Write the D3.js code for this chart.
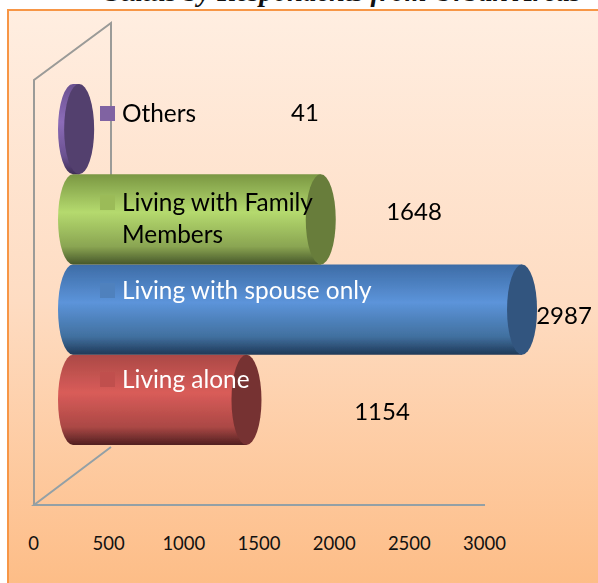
<!DOCTYPE html>
<html><head><meta charset="utf-8">
<script src="https://cdn.jsdelivr.net/npm/d3@7"></script>
<style>html,body{margin:0;padding:0;background:#fff;overflow:hidden}svg{display:block}text{font-family:Lato,sans-serif}</style>
</head><body><svg id="c" width="598" height="583"></svg>
<script>
const categories = ["Living alone", "Living with spouse only", "Living with Family Members", "Others"];
const values = [1154, 2987, 1648, 41];
const tickValues = [0, 500, 1000, 1500, 2000, 2500, 3000];
const titleText = "Status by Respondents from Urban Areas";
const bodyStops = [
  ["#ab4946", "#d95c59", "#ab4845", "#512020"],
  ["#3d6ca6", "#5c94da", "#41709f", "#1e3857"],
  ["#7a9743", "#b5da6e", "#8aa552", "#47572a"],
  ["#6a5190", "#8c6cb8", "#6a5190", "#3e2e55"]
];
const capColors = ["#763231", "#33557f", "#677d3b", "#533f6e"];
const swatchColors = ["#c0504d", "#4f81bd", "#9bbb59", "#8064a2"];
const labelColors = ["#fff", "#fff", "#000", "#000"];

const W = 598, H = 583;
const svg = d3.select("#c");
const defs = svg.append("defs");

const bg = defs.append("linearGradient").attr("id", "bg").attr("x1", 0).attr("y1", 0).attr("x2", 0).attr("y2", 1);
bg.append("stop").attr("offset", "0%").attr("stop-color", "#ffeee1");
bg.append("stop").attr("offset", "50%").attr("stop-color", "#fedcc2");
bg.append("stop").attr("offset", "100%").attr("stop-color", "#fdbc85");
const softer = defs.append("filter").attr("id", "softer");
softer.append("feGaussianBlur").attr("stdDeviation", 0.35);

// page title clipped by the top edge
svg.append("text").text(titleText).attr("x", 581).attr("y", 1).attr("text-anchor", "end")
  .style("font-family", "'Liberation Serif',serif").style("font-style", "italic").style("font-weight", "bold")
  .style("font-size", "28px").attr("fill", "#111");

// frame
svg.append("rect").attr("x", 8).attr("y", 10).attr("width", W).attr("height", H)
  .attr("fill", "url(#bg)").attr("stroke", "#f79646").attr("stroke-width", 2);

const x = d3.scaleLinear().domain([0, 3000]).range([34, 485]);
const y = d3.scaleBand().domain(categories).range([445, 84]);
const depthX = 39, rx = 15;
const wall = { front: 505, backBottom: 447, frontTop: 80, backTop: 23 };
const depth = 77;

// walls
const walls = svg.append("g").attr("fill", "none").attr("stroke", "#9b9b98").attr("stroke-width", 2).attr("filter", "url(#softer)");
walls.append("path").attr("d", d3.line()([
  [x(0), wall.front], [x(0), wall.frontTop], [x(0) + depth, wall.backTop], [x(0) + depth, 176]
]));
walls.append("path").attr("stroke", "#93a0a6").attr("d", d3.line()([
  [x(3000), wall.front], [x(0), wall.front], [x(0) + depth, wall.backBottom]
]));

// cylinders, drawn bottom to top
const base = x(0) + depthX;
const offX = v => x(v) + depthX;
const g = svg.append("g").attr("filter", "url(#softer)");
categories.forEach((c, i) => {
  const gr = defs.append("linearGradient").attr("id", "b" + i).attr("x1", 0).attr("y1", 0).attr("x2", 0).attr("y2", 1);
  [0, 0.42, 0.8, 1].forEach((o, k) => gr.append("stop").attr("offset", o).attr("stop-color", bodyStops[i][k]));
  const t = y(c), b = t + y.bandwidth(), ry = y.bandwidth() / 2;
  const xr = offX(values[i]);
  const p = d3.path();
  p.moveTo(base, t);
  p.lineTo(xr, t);
  p.lineTo(xr, b);
  p.lineTo(base, b);
  g.append("path").attr("fill", `url(#b${i})`)
    .attr("d", `${p.toString()} A${rx},${ry} 0 0 1 ${base},${t} Z`);
  g.append("ellipse").attr("cx", xr).attr("cy", t + ry).attr("rx", rx).attr("ry", ry).attr("fill", capColors[i]);
});

// axis
const axis = d3.axisBottom(x).tickValues(tickValues).tickSize(0).tickPadding(0).tickFormat(d3.format("d"));
const ax = svg.append("g").attr("transform", "translate(-1,537)").call(axis);
ax.select(".domain").remove();
ax.selectAll("text").attr("fill", "#111").attr("y", 0).attr("dy", "0.71em")
  .style("font-family", "Lato,sans-serif").style("font-size", "18.5px");

// in-chart legend labels and values
const labelRows = [379, 290, 202, 113];
const valueX = [382, 564, 414, 305];
const valueY = [411, 315, 211, 112];
const leg = svg.append("g").attr("filter", "url(#softer)");
categories.forEach((c, i) => {
  const yy = labelRows[i];
  leg.append("rect").attr("x", 100).attr("y", yy - 7).attr("width", 15).attr("height", 15)
    .attr("fill", swatchColors[i]);
  const words = c === "Living with Family Members" ? ["Living with Family", "Members"] : [c];
  words.forEach((w, k) => leg.append("text").text(w).attr("x", 122).attr("y", yy + k * 32 + 8.5)
    .attr("fill", labelColors[i]).style("font-size", "24.4px"));
  leg.append("text").text(values[i]).attr("x", valueX[i]).attr("y", valueY[i] + 8.5)
    .attr("text-anchor", "middle").attr("fill", "#000").style("font-size", "24px");
});
</script></body></html>
